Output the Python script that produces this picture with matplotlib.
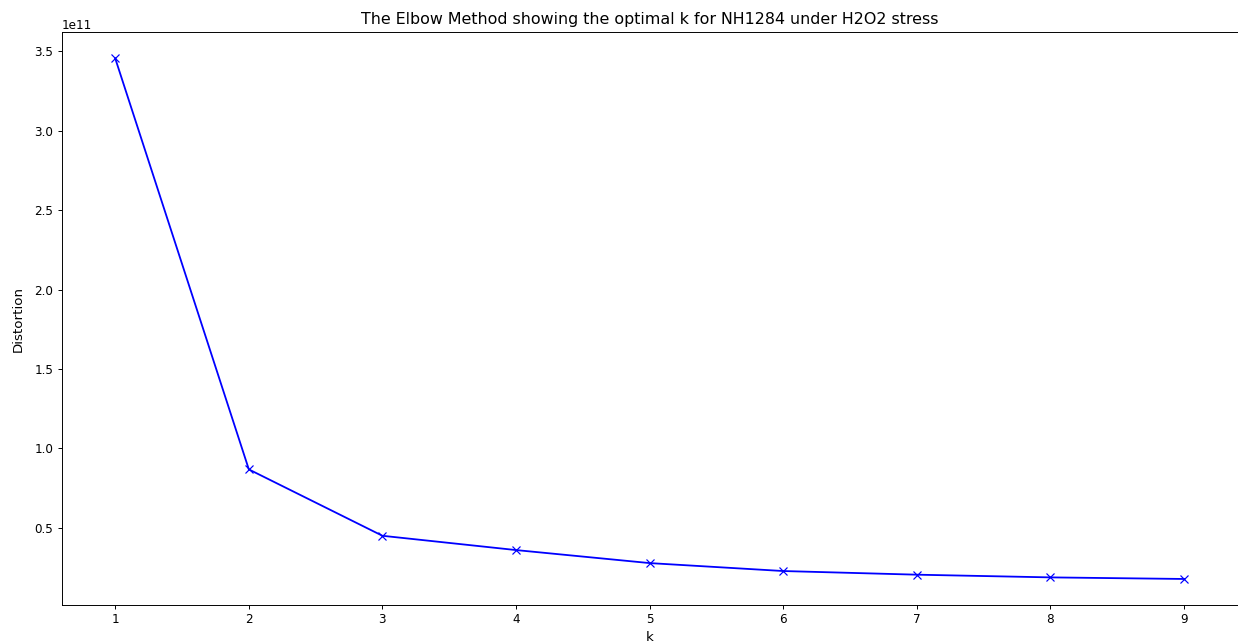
import matplotlib
matplotlib.use("Agg")
import matplotlib.pyplot as plt

# Elbow curve: sum of squared distances for each cluster count
k_values = [1, 2, 3, 4, 5, 6, 7, 8, 9]
distortions = [3.456e11, 0.868e11, 0.450e11, 0.360e11, 0.278e11,
               0.228e11, 0.205e11, 0.188e11, 0.178e11]

DPI = 86.4
fig = plt.figure(figsize=(1238 / DPI, 643 / DPI), dpi=DPI)
ax = fig.add_axes([61.8 / 1238, 1 - 605 / 643, (1237.5 - 61.8) / 1238, (605 - 32.4) / 643])

ax.plot(k_values, distortions, 'bx-')
ax.set_xlabel('k', fontsize=11.2)
ax.set_ylabel('Distortion', fontsize=11.2, labelpad=8)
ax.set_title('The Elbow Method showing the optimal k for NH1284 under H2O2 stress',
             fontsize=13.2, pad=7)

fig.savefig('out.png', dpi=DPI, facecolor='white')
